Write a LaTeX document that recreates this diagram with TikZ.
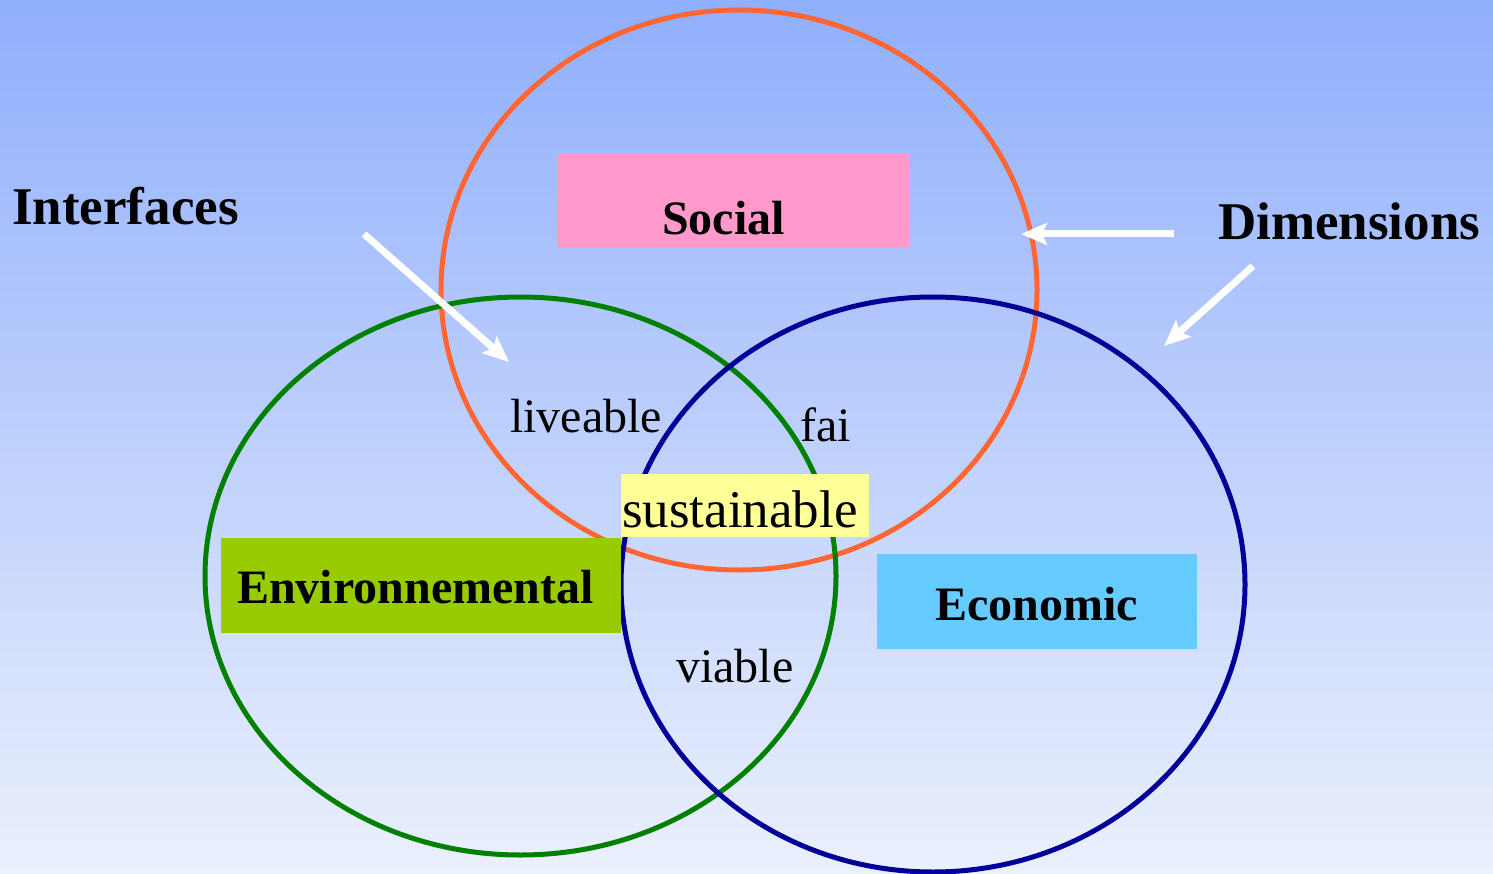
\documentclass[tikz,border=0pt]{standalone}
\usepackage{fontspec}
\setmainfont{Liberation Serif}
\usetikzlibrary{arrows.meta}
\definecolor{bgtop}{RGB}{144,175,252}
\definecolor{bgbot}{RGB}{235,240,252}
\definecolor{socialc}{RGB}{255,102,51}
\definecolor{envc}{RGB}{0,128,0}
\definecolor{ecoc}{RGB}{0,0,153}
\definecolor{pinkbox}{RGB}{255,153,204}
\definecolor{greenbox}{RGB}{153,204,0}
\definecolor{bluebox}{RGB}{102,204,255}
\definecolor{yellowbox}{RGB}{255,255,153}
\tikzset{
  ring/.style={line width=5pt},
  dimbox/.style={inner sep=0pt, draw=none},
  boxlabel/.style={anchor=base west, inner sep=0pt, font=\fontsize{48}{48}\selectfont\bfseries},
  zonelabel/.style={anchor=base west, inner sep=0pt, font=\fontsize{48}{48}\selectfont},
  biglabel/.style={anchor=base west, inner sep=0pt, font=\fontsize{53}{53}\selectfont\bfseries},
  whitearrow/.style={draw=white, line width=7pt, -{Stealth[length=26pt,width=22pt,inset=5pt]}}
}
\begin{document}
\begin{tikzpicture}[x=1pt,y=-1pt]
\shade[top color=bgtop, bottom color=bgbot] (0,0) rectangle (1493,874);
\useasboundingbox (0,0) rectangle (1493,874);
% circles
\draw[ring, socialc] (739,290) ellipse [x radius=298, y radius=280];
\draw[ring, envc] (520.5,576) ellipse [x radius=315.5, y radius=279];
\draw[ring, ecoc] (933,584.5) ellipse [x radius=312, y radius=287.5];
% boxes
\node[dimbox, fill=pinkbox, minimum width=352pt, minimum height=94pt] (socbox) at (733,201) {};
\node[dimbox, fill=greenbox, minimum width=400pt, minimum height=95pt] (envbox) at (421,585.5) {};
\node[dimbox, fill=bluebox, minimum width=320pt, minimum height=95pt] (ecobox) at (1037,601.5) {};
\node[dimbox, fill=yellowbox, minimum width=248pt, minimum height=63pt] (susbox) at (745,505.5) {};
% labels
\node[boxlabel] (soc) at (662,235) {Social};
\node[boxlabel] (env) at (237,603) {Environnemental};
\node[boxlabel] (eco) at (935,620) {Economic};
\node[anchor=base west, inner sep=0pt, font=\fontsize{53}{53}\selectfont] (sus) at (622,527) {sustainable};
\node[zonelabel] (liv) at (510,432) {liveable};
\node[zonelabel] (fai) at (800,441) {fai};
\node[zonelabel] (via) at (676,682) {viable};
\node[biglabel] (int) at (12,225) {Interfaces};
\node[biglabel] (dim) at (1218,240) {Dimensions};
% arrows
\coordinate (a1s) at (364,234);
\coordinate (a1e) at (509,362);
\coordinate (a2s) at (1174,234);
\coordinate (a2e) at (1021,234);
\coordinate (a3s) at (1253,266);
\coordinate (a3e) at (1164,346);
\draw[whitearrow] (a1s) -- (a1e);
\draw[whitearrow] (a2s) -- (a2e);
\draw[whitearrow] (a3s) -- (a3e);
\end{tikzpicture}
\end{document}
